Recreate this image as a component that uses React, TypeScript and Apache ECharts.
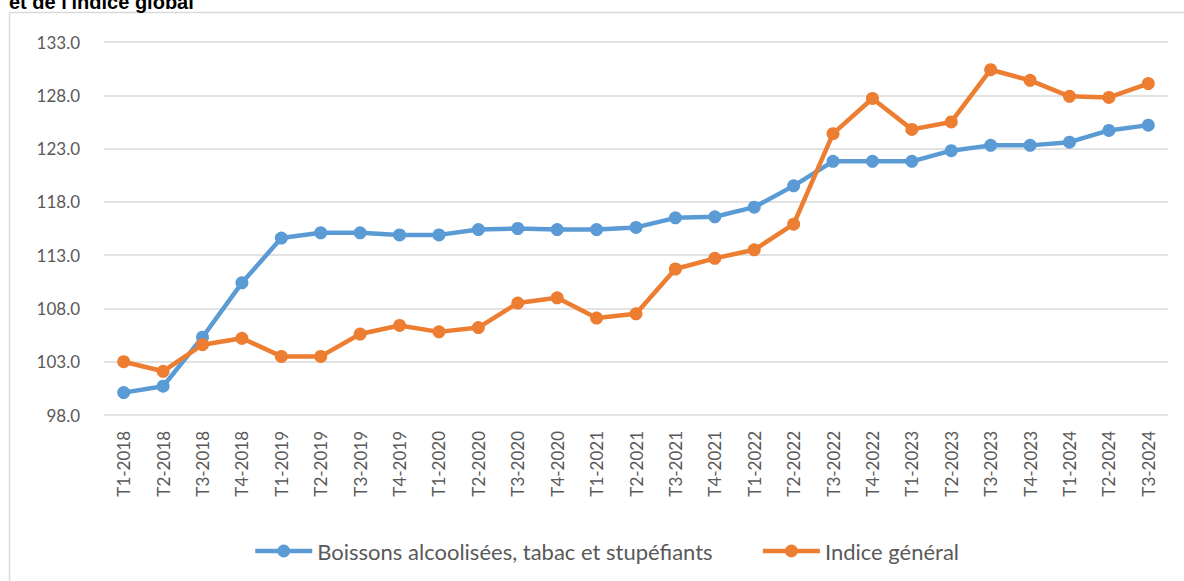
import React, { useEffect, useRef } from "react";
import * as echarts from "echarts";

const categories = [
  "T1-2018", "T2-2018", "T3-2018", "T4-2018",
  "T1-2019", "T2-2019", "T3-2019", "T4-2019",
  "T1-2020", "T2-2020", "T3-2020", "T4-2020",
  "T1-2021", "T2-2021", "T3-2021", "T4-2021",
  "T1-2022", "T2-2022", "T3-2022", "T4-2022",
  "T1-2023", "T2-2023", "T3-2023", "T4-2023",
  "T1-2024", "T2-2024", "T3-2024",
];

const boissons = [
  100.1, 100.7, 105.3, 110.4,
  114.6, 115.1, 115.1, 114.9,
  114.9, 115.4, 115.5, 115.4,
  115.4, 115.6, 116.5, 116.6,
  117.5, 119.5, 121.8, 121.8,
  121.8, 122.8, 123.3, 123.3,
  123.6, 124.7, 125.2,
];

const indiceGeneral = [
  103.0, 102.1, 104.6, 105.2,
  103.5, 103.5, 105.6, 106.4,
  105.8, 106.2, 108.5, 109.0,
  107.1, 107.5, 111.7, 112.7,
  113.5, 115.9, 124.4, 127.7,
  124.8, 125.5, 130.4, 129.4,
  127.9, 127.8, 129.1,
];

const seriesNames = ["Boissons alcoolisées, tabac et stupéfiants", "Indice général"];
const titleText = "et de l'indice global";

const FONT = "Lato, 'Open Sans', sans-serif";

export default function App() {
  const ref = useRef<HTMLDivElement>(null);
  useEffect(() => {
    if (!ref.current) return;
    const chart = echarts.init(ref.current, undefined, { renderer: "svg" });
    chart.setOption({
      animation: false,
      backgroundColor: "#ffffff",
      graphic: [
        {
          type: "rect",
          shape: { x: 9.5, y: 12.5, width: 1300, height: 700 },
          style: { fill: "none", stroke: "#d9d9d9", lineWidth: 1.5 },
          silent: true,
        },
        {
          type: "text",
          x: 9,
          y: 12,
          style: {
            text: titleText,
            font: "bold 20px 'Liberation Sans', Arial, sans-serif",
            fill: "#000000",
            verticalAlign: "bottom",
          },
        },
      ],
      grid: { left: 104, right: 16, top: 42, bottom: 166, containLabel: false },
      legend: {
        left: 248,
        top: 535,
        itemWidth: 57,
        itemHeight: 16,
        itemGap: 48,
        lineStyle: { width: 4.5 },
        textStyle: { fontFamily: FONT, fontSize: 22, color: "#595959" },
        data: seriesNames,
      },
      xAxis: {
        type: "category",
        data: categories,
        boundaryGap: true,
        axisLine: { show: false },
        axisTick: { show: false },
        axisLabel: {
          rotate: 90,
          margin: 16,
          interval: 0,
          fontFamily: FONT,
          fontSize: 17,
          color: "#595959",
        },
      },
      yAxis: {
        type: "value",
        min: 98,
        max: 133,
        interval: 5,
        axisLine: { show: false },
        axisTick: { show: false },
        splitLine: { lineStyle: { color: "#d9d9d9", width: 1.5 } },
        axisLabel: {
          margin: 24,
          fontFamily: FONT,
          fontSize: 17,
          color: "#595959",
          formatter: (v: number) => v.toFixed(1),
        },
      },
      series: [
        {
          name: seriesNames[0],
          type: "line",
          data: boissons,
          color: "#5B9BD5",
          symbol: "circle",
          symbolSize: 13,
          lineStyle: { width: 4.5, color: "#5B9BD5" },
          itemStyle: { color: "#5B9BD5" },
        },
        {
          name: seriesNames[1],
          type: "line",
          data: indiceGeneral,
          color: "#ED7D31",
          symbol: "circle",
          symbolSize: 13,
          lineStyle: { width: 4.5, color: "#ED7D31" },
          itemStyle: { color: "#ED7D31" },
        },
      ],
    });
    return () => chart.dispose();
  }, []);
  return (
    <div
      ref={ref}
      style={{ position: "fixed", left: 0, top: 0, width: 1184, height: 581 }}
    />
  );
}
